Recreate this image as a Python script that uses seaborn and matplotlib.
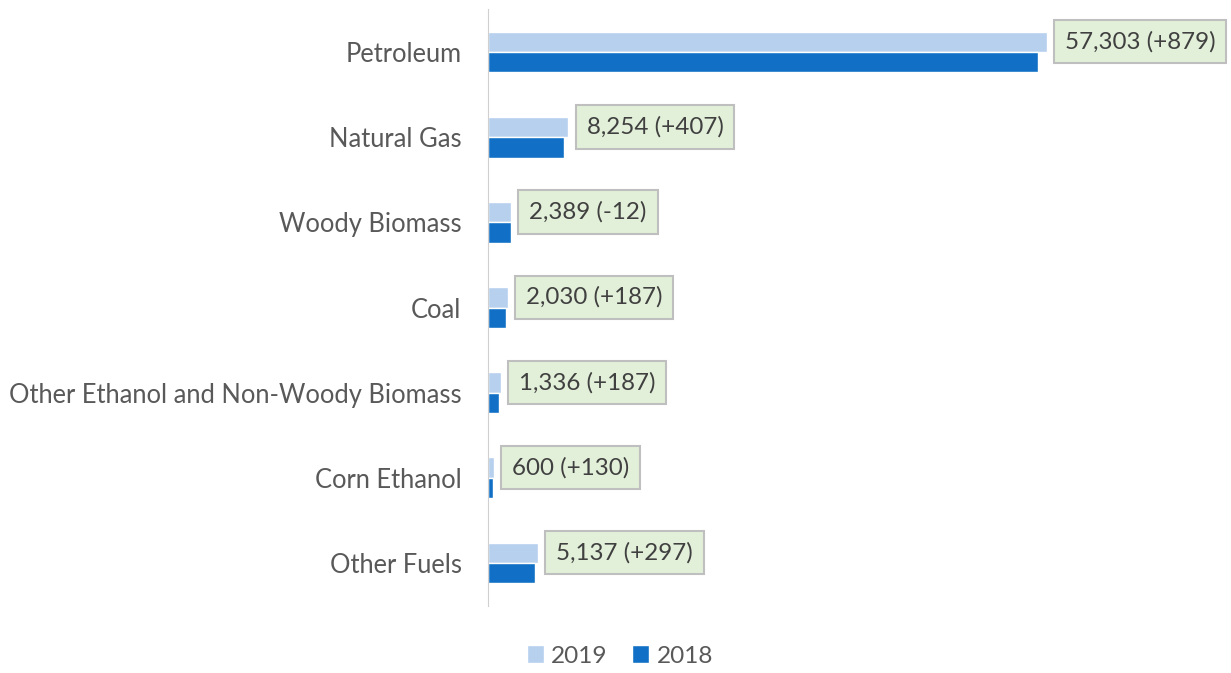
import seaborn as sns
import matplotlib.pyplot as plt
import pandas as pd

categories = ["Petroleum", "Natural Gas", "Woody Biomass", "Coal",
              "Other Ethanol and Non-Woody Biomass", "Corn Ethanol", "Other Fuels"]
values_2019 = [57303, 8254, 2389, 2030, 1336, 600, 5137]
changes = [879, 407, -12, 187, 187, 130, 297]
values_2018 = [v - c for v, c in zip(values_2019, changes)]

df = pd.DataFrame({
    "category": categories * 2,
    "value": values_2019 + values_2018,
    "year": ["2019"] * len(categories) + ["2018"] * len(categories),
})

sns.set_style("white")
plt.rcParams['font.family'] = ['Lato', 'DejaVu Sans']

fig = plt.figure(figsize=(12.31, 6.73), dpi=100)
ax = fig.add_axes([488 / 1231, 1 - 605.6 / 673, (1225 - 488) / 1231, (605.6 - 9.4) / 673])

sns.barplot(data=df, y="category", x="value", hue="year", order=categories,
            hue_order=["2019", "2018"], palette=["#b6d0ee", "#1170c6"],
            saturation=1, orient="h", width=0.48, ax=ax, legend=True)

ax.set_xlim(0, 75600)
ax.set_ylim(6.5, -0.5)
ax.set_xlabel("")
ax.set_ylabel("")
ax.set_xticks([])
for s in ["top", "right", "bottom"]:
    ax.spines[s].set_visible(False)
ax.spines["left"].set_color("#d0d0d0")
ax.tick_params(axis="y", length=0, pad=19, labelsize=18.4, labelcolor="#595959")

# labels next to 2019 bars
for bar, v, c in zip(ax.containers[0], values_2019, changes):
    y = bar.get_y() + bar.get_height() / 2
    ax.annotate(f"{v:,} ({c:+d})", xy=(bar.get_width(), y), xytext=(13, 0),
                textcoords="offset points", va="center", ha="left",
                fontsize=17.4, color="#404040",
                bbox=dict(boxstyle="square,pad=0.45", fc="#e2f0d9", ec="#bfbfbf", lw=1.5))

leg = ax.legend(loc="upper center", bbox_to_anchor=(0.179, -0.03),
                ncol=2, frameon=False, fontsize=17.6, handlelength=0.7, handleheight=0.7,
                handletextpad=0.3, columnspacing=1.0)
for t in leg.get_texts():
    t.set_color("#595959")

plt.savefig("out.png", dpi=100)
